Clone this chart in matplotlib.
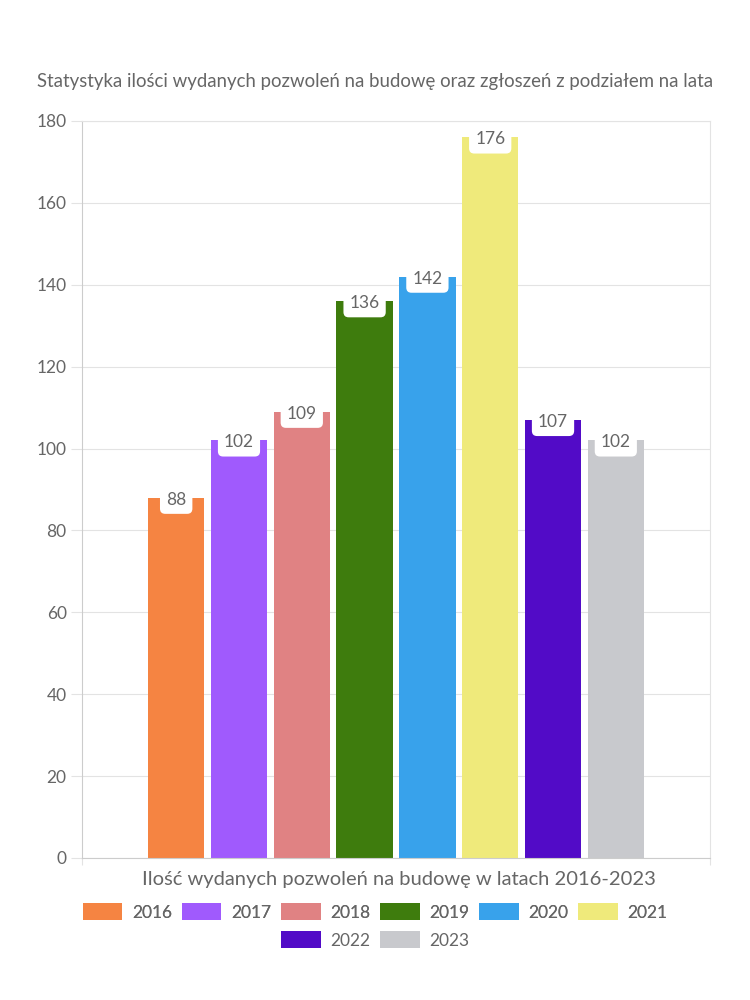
import matplotlib.pyplot as plt
from matplotlib.patches import Patch

years = ["2016", "2017", "2018", "2019", "2020", "2021", "2022", "2023"]
values = [88, 102, 109, 136, 142, 176, 107, 102]
colors = ["#F58442", "#A05AFD", "#E08283", "#3E7C0D", "#38A2EB", "#EFEA7B", "#520BC7", "#C8C9CD"]
yticks = [0, 20, 40, 60, 80, 100, 120, 140, 160, 180]

title = "Statystyka ilości wydanych pozwoleń na budowę oraz zgłoszeń z podziałem na lata"
legend_title = "Ilość wydanych pozwoleń na budowę w latach 2016-2023"

plt.rcParams["font.family"] = ["Lato", "DejaVu Sans"]
txt = "#666666"
grid = "#e3e3e3"

fig = plt.figure(figsize=(7.5, 10), dpi=100)
ax = fig.add_axes([0.1093, 0.142, 0.8374, 0.737])

n = len(values)
slot = 0.8 / n
for i, (v, c) in enumerate(zip(values, colors)):
    x = 0.1 + (i + 0.5) * slot
    ax.bar(x, v, width=slot * 0.9, color=c, zorder=2)
    ax.annotate(str(v), (x, v), xytext=(0, -1.5), textcoords="offset points",
                ha="center", va="center", fontsize=12.5, color=txt, zorder=4,
                bbox=dict(boxstyle="round,pad=0.35,rounding_size=0.3", fc="white", ec="none"))

ax.set_xlim(0, 1)
ax.set_ylim(0, 180)
ax.set_yticks(yticks)
ax.set_xticks([0, 1])
ax.set_xticklabels([])
ax.tick_params(axis="y", length=8, color=grid, labelsize=12.5, labelcolor=txt, pad=3)
ax.tick_params(axis="x", length=5, color=grid)
ax.grid(axis="y", color=grid, linewidth=0.8, zorder=0)
for s in ax.spines.values():
    s.set_color(grid)
ax.spines["left"].set_color("#cccccc")
ax.spines["bottom"].set_color("#cccccc")

fig.text(0.5, 0.919, title, ha="center", va="center", fontsize=13.4, color=txt)
fig.text(0.532, 0.12, legend_title, ha="center", va="center", fontsize=14.5, color=txt)

handles = [Patch(facecolor=c, edgecolor="none") for c in colors]
kw = dict(frameon=False, handlelength=2.3, handleheight=1.1, handletextpad=0.55,
          columnspacing=0.55, fontsize=12.5, labelcolor=txt, loc="center")
leg1 = fig.legend(handles[:6], years[:6], ncol=6, bbox_to_anchor=(0.5, 0.088), **kw)
fig.add_artist(leg1)
fig.legend(handles[6:], years[6:], ncol=2, bbox_to_anchor=(0.5, 0.06), **kw)

fig.savefig("out.png", dpi=100)
